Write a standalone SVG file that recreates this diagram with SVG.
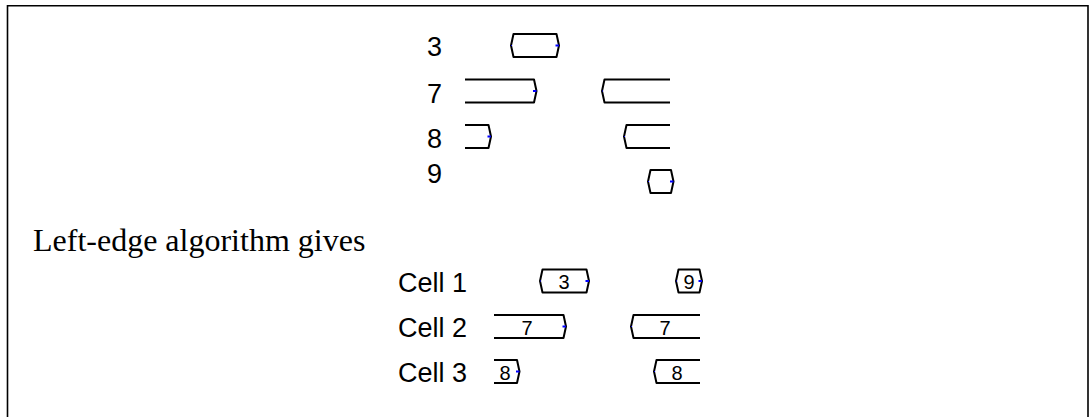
<svg xmlns="http://www.w3.org/2000/svg" width="1089" height="417" viewBox="0 0 1089 417">
<style>
.frame{fill:none;stroke:#000;stroke-width:1.6}
.seg{fill:none;stroke:#000;stroke-width:2;stroke-linejoin:round}
.tip{stroke:#0000ff;stroke-width:2}
.dot{stroke:#0000ff;stroke-width:1.2}
.lbl{font-family:"Liberation Sans",Arial,sans-serif;font-size:27px;fill:#000}
.in{font-family:"Liberation Sans",Arial,sans-serif;font-size:20px;fill:#000;text-anchor:middle}
.serif{font-family:"Liberation Serif","Times New Roman",serif;font-size:32px;fill:#000}
</style>
<rect width="1089" height="417" fill="#fff"/>
<path class="frame" d="M7.5,417 V5.8 H1088 V417"/>

<g id="labels-top">
<text class="lbl" x="427" y="56">3</text>
<text class="lbl" x="427" y="102.5">7</text>
<text class="lbl" x="427" y="148">8</text>
<text class="lbl" x="427" y="183.3">9</text>
</g>

<g id="n3">
<path class="seg" d="M513.5,34 L556.5,34 L559,45.5 L556.5,57 L513.5,57 L511,45.5 Z"/>
<line class="tip" x1="555.5" y1="45.5" x2="559" y2="45.5"/><line class="dot" x1="511" y1="45.5" x2="512" y2="45.5"/>
</g>
<g id="n7a">
<path class="seg" d="M465,79.5 L534,79.5 L536.5,91 L534,102.5 L465,102.5"/>
<line class="tip" x1="533" y1="91" x2="536.5" y2="91"/>
</g>
<g id="n7b">
<path class="seg" d="M670,79.5 L604.5,79.5 L602,91 L604.5,102.5 L670,102.5"/>
<line class="dot" x1="602" y1="91" x2="603" y2="91"/>
</g>
<g id="n8a">
<path class="seg" d="M465,125 L488.5,125 L491,136.5 L488.5,148 L465,148"/>
<line class="tip" x1="487.5" y1="136.5" x2="491" y2="136.5"/>
</g>
<g id="n8b">
<path class="seg" d="M670,125 L626.5,125 L624,136.5 L626.5,148 L670,148"/>
<line class="dot" x1="624" y1="136.5" x2="625" y2="136.5"/>
</g>
<g id="n9">
<path class="seg" d="M650.5,170 L671,170 L673.5,181.5 L671,193 L650.5,193 L648,181.5 Z"/>
<line class="tip" x1="670" y1="181.5" x2="673.5" y2="181.5"/><line class="dot" x1="648" y1="181.5" x2="649" y2="181.5"/>
</g>

<text class="serif" x="33" y="251">Left-edge algorithm gives</text>

<g id="labels-cells">
<text class="lbl" x="398" y="291.7" font-size="28">Cell 1</text>
<text class="lbl" x="398" y="336.7" font-size="28">Cell 2</text>
<text class="lbl" x="398" y="381.7" font-size="28">Cell 3</text>
</g>

<g id="c1-3">
<path class="seg" d="M542.5,269.5 L586.5,269.5 L589,281 L586.5,292.5 L542.5,292.5 L540,281 Z"/>
<line class="tip" x1="585.5" y1="281" x2="589" y2="281"/><line class="dot" x1="540" y1="281" x2="541" y2="281"/>
<text class="in" x="564" y="289">3</text>
</g>
<g id="c1-9">
<path class="seg" d="M678.5,269.5 L699.5,269.5 L702,281 L699.5,292.5 L678.5,292.5 L676,281 Z"/>
<line class="tip" x1="698.5" y1="281" x2="702" y2="281"/><line class="dot" x1="676" y1="281" x2="677" y2="281"/>
<text class="in" x="689" y="289">9</text>
</g>
<g id="c2-7a">
<path class="seg" d="M494,315 L563.5,315 L566,326.5 L563.5,338 L494,338"/>
<line class="tip" x1="562.5" y1="326.5" x2="566" y2="326.5"/>
<text class="in" x="527" y="334.5">7</text>
</g>
<g id="c2-7b">
<path class="seg" d="M700,315 L633.5,315 L631,326.5 L633.5,338 L700,338"/>
<line class="dot" x1="631" y1="326.5" x2="632" y2="326.5"/>
<text class="in" x="665" y="334.5">7</text>
</g>
<g id="c3-8a">
<path class="seg" d="M494,360 L517,360 L519.5,371.5 L517,383 L494,383"/>
<line class="tip" x1="516" y1="371.5" x2="519.5" y2="371.5"/>
<text class="in" x="505" y="379.5">8</text>
</g>
<g id="c3-8b">
<path class="seg" d="M700,360 L656.5,360 L654,371.5 L656.5,383 L700,383"/>
<line class="dot" x1="654" y1="371.5" x2="655" y2="371.5"/>
<text class="in" x="677" y="379.5">8</text>
</g>
<g id="connectors"/>
</svg>
